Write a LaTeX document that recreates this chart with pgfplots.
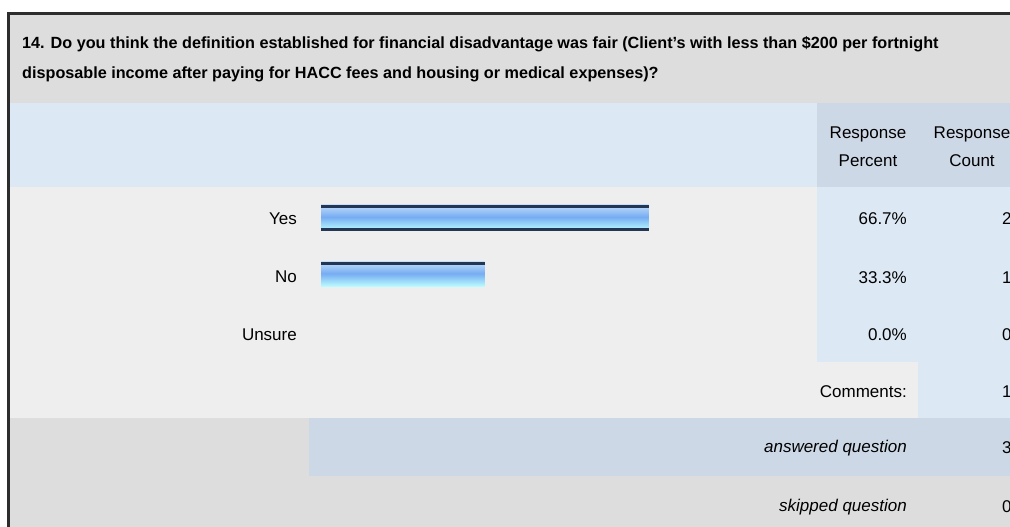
\documentclass[border=0pt]{standalone}
\usepackage{pgfplots}
\pgfplotsset{compat=1.18}
\usepackage{fontspec}
\setmainfont{Liberation Sans}

\definecolor{frame}{RGB}{45,45,45}
\definecolor{headgray}{RGB}{221,221,221}
\definecolor{rowgray}{RGB}{238,238,238}
\definecolor{lightblue}{RGB}{221,232,245}
\definecolor{midblue}{RGB}{205,216,230}
\definecolor{barTop}{RGB}{190,220,250}
\definecolor{barMid}{RGB}{118,172,242}
\definecolor{barBot}{RGB}{184,250,255}
\definecolor{barLine}{RGB}{35,55,85}

% bar gradient: the path box spans 25bp..75bp of the shading
\pgfdeclareverticalshading{barshade}{100bp}{%
  color(0bp)=(barBot); color(27bp)=(barBot); color(52bp)=(barMid);
  color(75bp)=(barTop); color(100bp)=(barTop)}

\begin{document}
\begin{tikzpicture}
\clip (0pt,0pt) rectangle (1010pt,-527pt);
\begin{scope}[x=1pt, y=-1pt]
\fill[white] (0,0) rectangle (1010,527);

% table background (pixel layout of the survey block)
\fill[headgray]  (9,15)    rectangle (1010,103);
\fill[lightblue] (9,103)   rectangle (817,187);
\fill[midblue]   (817,103) rectangle (1010,187);
\fill[rowgray]   (9,187)   rectangle (817,362);
\fill[lightblue] (817,187) rectangle (1010,362);
\fill[rowgray]   (9,362)   rectangle (918,418);
\fill[lightblue] (918,362) rectangle (1010,418);
\fill[headgray]  (9,418)   rectangle (309,476);
\fill[midblue]   (309,418) rectangle (1010,476);
\fill[headgray]  (9,476)   rectangle (1010,527);
\fill[frame] (7,12) rectangle (1010,15);
\fill[frame] (7,12) rectangle (10,527);

% question
\node[anchor=west, font=\fontsize{16.2}{19}\selectfont\bfseries, inner sep=0pt] at (22,44)
  {14. Do you think the definition established for financial disadvantage was fair (Client's with less than \$200 per fortnight};
\node[anchor=west, font=\fontsize{16.2}{19}\selectfont\bfseries, inner sep=0pt] at (22,74)
  {disposable income after paying for HACC fees and housing or medical expenses)?};

% column headers
\node[align=center, font=\fontsize{17}{28}\selectfont, inner sep=0pt] at (868,147) {Response\\Percent};
\node[align=center, font=\fontsize{17}{28}\selectfont, inner sep=0pt] at (972,147) {Response\\Count};

% answer labels
\begin{scope}[every node/.style={font=\fontsize{17}{20}\selectfont, inner sep=0pt}]
\node[anchor=east] at (297,219) {Yes};
\node[anchor=east] at (297,277) {No};
\node[anchor=east] at (297,335) {Unsure};
\node[anchor=east] at (907,219) {66.7\%};
\node[anchor=east] at (907,278) {33.3\%};
\node[anchor=east] at (907,335) {0.0\%};
\node[anchor=east] at (907,392) {Comments:};
\node[anchor=east] at (907,448) {\itshape answered question};
\node[anchor=east] at (907,507) {\itshape skipped question};
\node[anchor=west] at (1002,219) {2};
\node[anchor=west] at (1002,278) {1};
\node[anchor=west] at (1002,335) {0};
\node[anchor=west] at (1002,392) {1};
\node[anchor=west] at (1002,448) {3};
\node[anchor=west] at (1002,507) {0};
\end{scope}
\end{scope}

\begin{axis}[
    at={(321pt,-527pt)}, anchor=south west,
    scale only axis,
    width=491pt, height=527pt,
    xmin=0, xmax=100,
    ymin=-527, ymax=0,
    hide axis,
    clip=false,
]
% response percent bars, one plot each so the gradient fits each bar
% (Unsure = 0.0%, no bar)
\addplot[xbar, bar width=26, bar shift=0pt, draw=none, shade, shading=barshade]
coordinates {(66.7,-218)};
\addplot[xbar, bar width=25, bar shift=0pt, draw=none, shade, shading=barshade]
coordinates {(33.3,-274.5)};
% dark rims
\addplot[xbar, bar width=3, bar shift=11.5, draw=none, fill=barLine]
coordinates {(66.7,-218)};
\addplot[xbar, bar width=3, bar shift=11, draw=none, fill=barLine]
coordinates {(33.3,-274.5)};
\addplot[xbar, bar width=3, bar shift=-11.5, draw=none, fill=barLine]
coordinates {(66.7,-218)};
\end{axis}
\end{tikzpicture}
\end{document}
